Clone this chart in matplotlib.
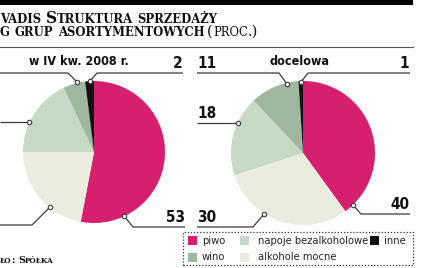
import numpy as np
import matplotlib
matplotlib.use("Agg")
import matplotlib.pyplot as plt
from matplotlib.patches import Rectangle

# dane
kategorie = ["piwo", "alkohole mocne", "napoje bezalkoholowe", "wino", "inne"]
kolory = ["#d61f6f", "#e9ecdf", "#c6d9c4", "#9fb69f", "#111111"]
udzial_2008 = [53, 22, 18, 5, 2]
udzial_docelowy = [40, 30, 18, 11, 1]
tytul_1 = "vadis Struktura sprzedaży"
tytul_2 = "g grup asortymentowych"
zrodlo = "ło: Spółka"

W, H = 439, 268
SANS = "DejaVu Sans"
SERIF = "DejaVu Serif"
LINIA = "#3a3a3a"

fig = plt.figure(figsize=(W / 100, H / 100), dpi=100)
ax = fig.add_axes([0, 0, 1, 1])
renderer = fig.canvas.get_renderer()


def Y(y):
    return H - y


def kapitaliki(x, y, s, big, small, weight="bold", color="#111111"):
    # udawane kapitaliki: male litery jako wersaliki w mniejszym rozmiarze
    for i, slowo in enumerate(s.split(" ")):
        if i > 0:
            x += big * 100 / 72 * 0.3
        runs = []
        for ch in slowo:
            duza = not ch.islower()
            if runs and runs[-1][1] == duza:
                runs[-1][0] += ch
            else:
                runs.append([ch, duza])
        for tekst, duza in runs:
            t = ax.text(x, Y(y), tekst.upper(), fontsize=big if duza else small,
                        family=SERIF, weight=weight, color=color,
                        ha="left", va="baseline")
            x += t.get_window_extent(renderer).width
    return x


# gorny pasek i linia
ax.add_patch(Rectangle((0, Y(5)), 413, 5, color="black", lw=0))
ax.plot([0, 413], [Y(47), Y(47)], color="#555555", lw=0.8)

kapitaliki(0, 22.5, tytul_1, 11.2, 8.4)
x2 = kapitaliki(0, 36, tytul_2, 11.2, 8.4)
kapitaliki(x2 + 3, 36, "(proc.)", 10.5, 8.4, weight="normal")

# wykresy kolowe
for vals, cx, cy, r in [(udzial_2008, 94, 152, 71), (udzial_docelowy, 303, 153, 72)]:
    ax.pie(vals, colors=kolory, startangle=90, counterclock=False,
           center=(cx, Y(cy)), radius=r, frame=True,
           wedgeprops=dict(linewidth=0))

ax.text(79, Y(61), "w IV kw. 2008 r.", family=SANS, stretch="condensed",
        weight="bold", fontsize=9, ha="center", va="center", color="#111111")
ax.text(300, Y(61), "docelowa", family=SANS, stretch="condensed",
        weight="bold", fontsize=9, ha="center", va="center", color="#111111")

# linie odnosnikow: (punkty linii, etykieta, x etykiety, wyrownanie)
odnosniki = [
    ([(90, 81), (97, 73), (183, 73)], udzial_2008[4], 183, "right"),
    ([(124, 216), (133, 227), (185, 227)], udzial_2008[0], 185, "right"),
    ([(77, 82), (68, 73), (0, 73)], None, 0, "left"),
    ([(29, 122), (0, 122)], None, 0, "left"),
    ([(50, 207), (32, 225), (0, 225)], None, 0, "left"),
    ([(287, 84), (279, 73), (197, 73)], udzial_docelowy[3], 197, "left"),
    ([(238, 123), (197, 123)], udzial_docelowy[2], 197, "left"),
    ([(264, 214), (253, 227), (197, 227)], udzial_docelowy[1], 197, "left"),
    ([(301, 82), (308, 73), (410, 73)], udzial_docelowy[4], 409, "right"),
    ([(353, 205), (361, 214), (410, 214)], udzial_docelowy[0], 409, "right"),
]
for pts, val, lx, ha in odnosniki:
    xs = [p[0] for p in pts]
    ys = [Y(p[1]) for p in pts]
    ax.plot(xs, ys, color=LINIA, lw=0.9, solid_capstyle="butt")
    ax.plot(xs[0], ys[0], "o", ms=3.2, mfc="white", mec=LINIA, mew=0.8)
    if val is not None:
        ax.text(lx, ys[-1] + 5, str(val), family=SANS, stretch="condensed",
                weight="bold", fontsize=11, ha=ha, va="baseline", color="#111111")

# legenda
ax.add_patch(Rectangle((183, Y(265)), 230, 33, fill=False, ls=(0, (1, 1.5)),
                       lw=0.9, ec="#333333"))
legenda = [(0, 188, 241), (2, 240, 241), (4, 370, 241), (3, 188, 257), (1, 240, 257)]
for idx, lx, ly in legenda:
    ax.add_patch(Rectangle((lx, Y(ly + 4.5)), 9.5, 9, color=kolory[idx], lw=0))
    ax.text(lx + 14 if idx not in (2, 1) else lx + 18, Y(ly), kategorie[idx],
            family=SANS, stretch="condensed", fontsize=8,
            ha="left", va="center", color="#222222")

kapitaliki(0, 263, zrodlo, 7, 5.2)

ax.set_xlim(0, W)
ax.set_ylim(0, H)
ax.set_aspect("equal")
ax.axis("off")
fig.savefig("out.png", dpi=100)
